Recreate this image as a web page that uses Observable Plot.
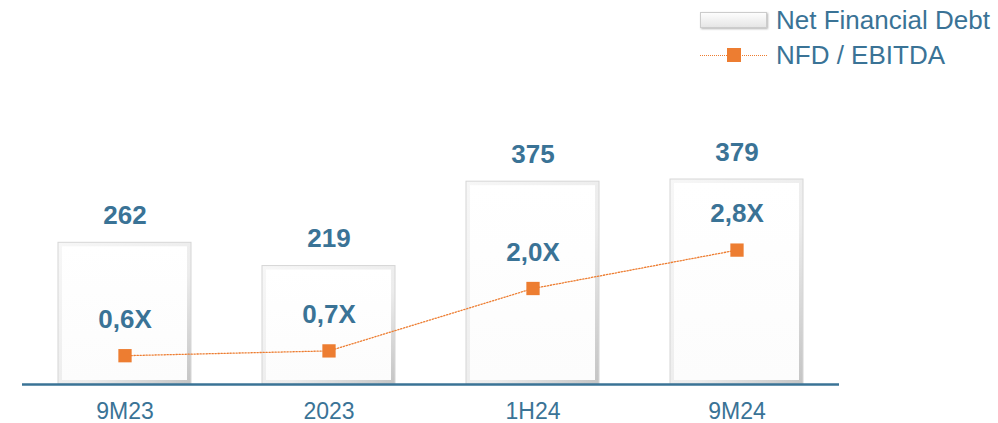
<!DOCTYPE html>
<html>
<head>
<meta charset="utf-8">
<script src="https://cdn.jsdelivr.net/npm/d3@7"></script>
<script src="https://cdn.jsdelivr.net/npm/@observablehq/plot@0.6"></script>
<style>
  html, body { margin: 0; padding: 0; background: #fff; }
  #wrap { position: relative; width: 998px; height: 423px; font-family: "Liberation Sans", Arial, sans-serif; }
  .legend { position: absolute; left: 700px; color: #3a7396; font-size: 26px; display: flex; align-items: center; line-height: 30px; }
  .legend .sw { width: 67px; height: 16px; margin-right: 9px; position: relative; }
</style>
</head>
<body>
<div id="wrap">
  <div class="legend" style="top:5px;">
    <div class="sw" style="background:linear-gradient(#fdfdfd,#e6e6e6);border:1px solid #cccccc;box-shadow:1px 1px 2px rgba(0,0,0,0.3);box-sizing:border-box;"></div>
    <span>Net Financial Debt</span>
  </div>
  <div class="legend" style="top:40px;">
    <div class="sw">
      <div style="position:absolute;left:0;right:0;top:8px;border-top:1px dotted #ed7d31;"></div>
      <div style="position:absolute;left:27px;top:1px;width:14px;height:14px;background:#ed7d31;"></div>
    </div>
    <span>NFD / EBITDA</span>
  </div>
</div>
<script>
const periods = ["9M23", "2023", "1H24", "9M24"];
const netFinancialDebt = [262, 219, 375, 379];
const nfdEbitda = [0.6, 0.7, 2.0, 2.8];
const ratioLabels = ["0,6X", "0,7X", "2,0X", "2,8X"];

const blue = "#3a7396";
const orange = "#ed7d31";

// secondary axis: ratio mapped onto the primary (debt) domain
const yMax = 710;
const ratioMax = 8;
const ratioToY = d3.scaleLinear().domain([0, ratioMax]).range([0, yMax]);

const data = periods.map((p, i) => ({
  period: p,
  debt: netFinancialDebt[i],
  ratio: nfdEbitda[i],
  ratioY: ratioToY(nfdEbitda[i]),
  ratioLabel: ratioLabels[i]
}));

const chart = Plot.plot({
  width: 998,
  height: 423,
  marginLeft: 22,
  marginRight: 159,
  marginTop: 0,
  marginBottom: 39,
  style: { fontFamily: "Liberation Sans, Arial, sans-serif", background: "transparent", overflow: "visible" },
  x: { domain: periods, paddingInner: 0.35, paddingOuter: 0.175, label: null },
  y: { domain: [0, yMax], axis: null },
  marks: [
    Plot.barY(data, { x: "period", y: "debt", fill: "url(#bevel)", stroke: "#d6d6d6", strokeWidth: 1, style: "filter: drop-shadow(2px 2px 2px rgba(0,0,0,0.3))" }),
    Plot.barY(data, { x: "period", y: "debt", fill: "url(#face)", inset: 4 }),
    Plot.ruleY([0], { stroke: blue, strokeWidth: 2.5 }),
    Plot.axisX({ tickSize: 0, tickPadding: 18, fontSize: 23, fill: blue, label: null }),
    Plot.line(data, { x: "period", y: "ratioY", stroke: orange, strokeWidth: 1.3, strokeDasharray: "1.3,1.7" }),
    Plot.dot(data, { x: "period", y: "ratioY", symbol: "square", r: 7.5, fill: orange }),
    Plot.text(data, { x: "period", y: "debt", text: d => String(d.debt), dy: -27, fill: blue, fontSize: 26, fontWeight: "bold" }),
    Plot.text(data, { x: "period", y: "ratioY", text: "ratioLabel", dy: -36, fill: blue, fontSize: 26, fontWeight: "bold" })
  ]
});

// gradients for the bevelled bar look
const ns = "http://www.w3.org/2000/svg";
const defs = document.createElementNS(ns, "defs");
defs.innerHTML = `
  <linearGradient id="bevel" x1="0" y1="0" x2="1" y2="1">
    <stop offset="0" stop-color="#f7f7f7"/>
    <stop offset="0.6" stop-color="#ececec"/>
    <stop offset="1" stop-color="#c4c4c4"/>
  </linearGradient>
  <linearGradient id="face" x1="0" y1="0" x2="0" y2="1">
    <stop offset="0" stop-color="#ffffff"/>
    <stop offset="1" stop-color="#fcfcfc"/>
  </linearGradient>`;
chart.insertBefore(defs, chart.firstChild);

chart.style.position = "absolute";
chart.style.left = "0";
chart.style.top = "0";
document.getElementById("wrap").prepend(chart);
</script>
</body>
</html>
